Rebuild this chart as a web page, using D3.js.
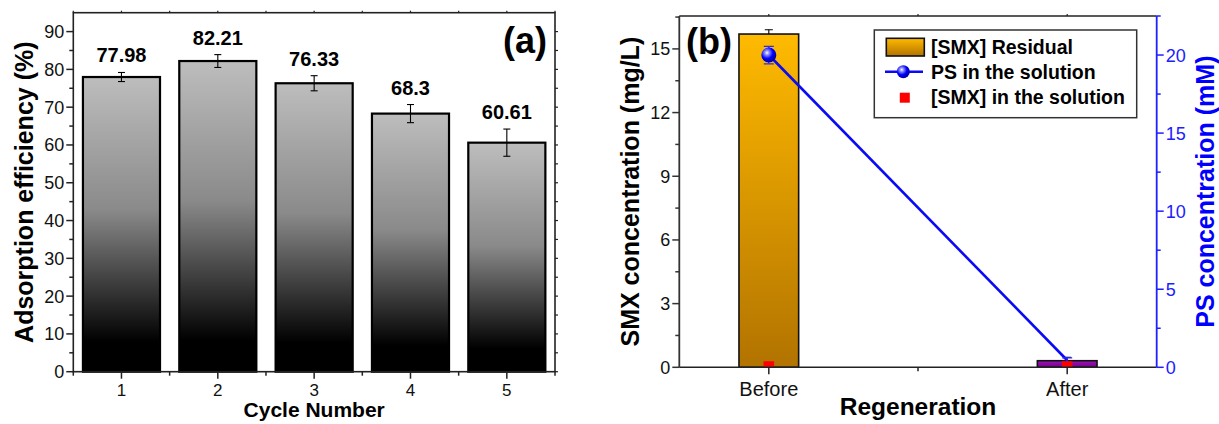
<!DOCTYPE html>
<html>
<head>
<meta charset="utf-8">
<script src="https://cdn.jsdelivr.net/npm/d3@7"></script>
<style>
  body { margin: 0; background: #fff; }
  svg { display: block; font-family: "Liberation Sans", Arial, sans-serif; }
</style>
</head>
<body>
<svg id="chart" width="1219" height="424"></svg>
<script>
// ---- panel (a) data
const cycles = ['1', '2', '3', '4', '5'];
const efficiency = [77.98, 82.21, 76.33, 68.3, 60.61];
const efficiencyErr = [1.2, 1.7, 2.0, 2.4, 3.6];
const efficiencyTicks = [0, 10, 20, 30, 40, 50, 60, 70, 80, 90];

// ---- panel (b) data
const stages = ['Before', 'After'];
const smxResidual = [15.7, 0.31];
const smxResidualErr = [0.2, 0.16];
const psSolution = [20.0, 0.45];
const psSolutionErr = [0.56, 0.15];
const smxSolution = [0.05, 0.05];
const smxTicks = [0, 3, 6, 9, 12, 15];
const psTicks = [0, 5, 10, 15, 20];

const svg = d3.select('#chart');
const defs = svg.append('defs');

function addGradient(id, stops) {
  const g = defs.append('linearGradient').attr('id', id)
    .attr('x1', 0).attr('y1', 0).attr('x2', 0).attr('y2', 1);
  stops.forEach(s => g.append('stop').attr('offset', s[0]).attr('stop-color', s[1]));
}
addGradient('gray-grad', [[0, '#bdbdbd'], [0.45, '#8a8a8a'], [0.9, '#000'], [1, '#000']]);
addGradient('orange-grad', [[0, '#ffba00'], [1, '#b27300']]);
addGradient('purple-grad', [[0, '#9a14b4'], [1, '#77008e']]);

const ball = defs.append('radialGradient').attr('id', 'ball-grad')
  .attr('cx', '38%').attr('cy', '35%').attr('r', '65%');
[[0, '#ffffff'], [0.22, '#9090ff'], [0.6, '#0000ff'], [1, '#00009a']]
  .forEach(s => ball.append('stop').attr('offset', s[0]).attr('stop-color', s[1]));

// small helper for manual tick marks
function ticks(g, list, fn, color, width) {
  g.selectAll(null).data(list).join('line')
    .each(function(d) {
      const c = fn(d);
      d3.select(this).attr('x1', c[0]).attr('y1', c[1]).attr('x2', c[2]).attr('y2', c[3]);
    })
    .attr('stroke', color).attr('stroke-width', width || 1.5);
}

// ============ panel (a)
const pa = {left: 73.3, right: 555, top: 12.7, bottom: 371.7};
const xa = d3.scaleBand().domain(cycles).range([pa.left, pa.right])
  .paddingInner(0.2).paddingOuter(0.1);
const ya = d3.scaleLinear().domain([0, 95]).range([pa.bottom, pa.top]);
const ga = svg.append('g');

ga.selectAll('rect.bar').data(cycles).join('rect')
  .attr('class', 'bar')
  .attr('x', d => xa(d))
  .attr('y', (d, i) => ya(efficiency[i]))
  .attr('width', xa.bandwidth())
  .attr('height', (d, i) => ya(0) - ya(efficiency[i]))
  .attr('fill', 'url(#gray-grad)')
  .attr('stroke', '#000').attr('stroke-width', 2.2);

const cxa = d => xa(d) + xa.bandwidth() / 2;
const errA = ga.selectAll('g.err').data(cycles).join('g').attr('class', 'err');
errA.append('line')
  .attr('x1', cxa).attr('x2', cxa)
  .attr('y1', (d, i) => ya(efficiency[i] + efficiencyErr[i]))
  .attr('y2', (d, i) => ya(efficiency[i] - efficiencyErr[i]));
[1, -1].forEach(sgn => {
  errA.append('line')
    .attr('x1', d => cxa(d) - 3.5).attr('x2', d => cxa(d) + 3.5)
    .attr('y1', (d, i) => ya(efficiency[i] + sgn * efficiencyErr[i]))
    .attr('y2', (d, i) => ya(efficiency[i] + sgn * efficiencyErr[i]));
});
errA.selectAll('line').attr('stroke', '#000').attr('stroke-width', 1.1);

ga.selectAll('text.val').data(cycles).join('text')
  .attr('class', 'val')
  .attr('x', cxa)
  .attr('y', (d, i) => ya(efficiency[i] + efficiencyErr[i]) - 10)
  .attr('text-anchor', 'middle')
  .attr('font-size', 20).attr('font-weight', 'bold')
  .text((d, i) => efficiency[i]);

// frame and axes
ga.append('rect')
  .attr('x', pa.left).attr('y', pa.top)
  .attr('width', pa.right - pa.left).attr('height', pa.bottom - pa.top)
  .attr('fill', 'none').attr('stroke', '#222').attr('stroke-width', 1.6);

const minorA = d3.range(5, 95, 10);
ticks(ga, efficiencyTicks, v => [pa.left - 7, ya(v), pa.left, ya(v)], '#222');
ticks(ga, minorA, v => [pa.left - 4, ya(v), pa.left, ya(v)], '#222');
ticks(ga, efficiencyTicks.concat(minorA), v => [pa.right, ya(v), pa.right + 3, ya(v)], '#222', 1.2);

const edgesA = cycles.map(d => xa(d) + xa.bandwidth() / 2 + xa.step() / 2).slice(0, -1)
  .concat([pa.left, pa.right]);
ticks(ga, cycles, d => [cxa(d), pa.bottom, cxa(d), pa.bottom + 7], '#222');
ticks(ga, edgesA, x => [x, pa.bottom, x, pa.bottom + 4], '#222');
ticks(ga, cycles, d => [cxa(d), pa.top - 2, cxa(d), pa.top], '#222', 1.2);
ticks(ga, edgesA, x => [x, pa.top - 2, x, pa.top], '#222', 1.2);

ga.selectAll('text.ylab').data(efficiencyTicks).join('text')
  .attr('class', 'ylab')
  .attr('x', pa.left - 9).attr('y', v => ya(v) + 6.5)
  .attr('text-anchor', 'end').attr('font-size', 18).attr('fill', '#111')
  .text(v => v);
ga.selectAll('text.xlab').data(cycles).join('text')
  .attr('class', 'xlab')
  .attr('x', cxa).attr('y', 396)
  .attr('text-anchor', 'middle').attr('font-size', 17).attr('fill', '#111')
  .text(d => d);

ga.append('text')
  .attr('transform', `translate(33,${(pa.top + pa.bottom) / 2}) rotate(-90)`)
  .attr('text-anchor', 'middle').attr('font-size', 25).attr('font-weight', 'bold')
  .text('Adsorption efficiency (%)');
ga.append('text')
  .attr('x', (pa.left + pa.right) / 2).attr('y', 417)
  .attr('text-anchor', 'middle').attr('font-size', 21).attr('font-weight', 'bold')
  .text('Cycle Number');
ga.append('text')
  .attr('x', 547).attr('y', 53)
  .attr('text-anchor', 'end').attr('font-size', 36).attr('font-weight', 'bold')
  .text('(a)');

// ============ panel (b)
const pb = {left: 679.3, right: 1156.7, top: 16, bottom: 367.3};
const xb = d3.scaleBand().domain(stages).range([pb.left, pb.right])
  .paddingInner(0.8).paddingOuter(0.2);
const yb = d3.scaleLinear().domain([0, 16.55]).range([pb.bottom, pb.top]);
const yr = d3.scaleLinear().domain([0, 22.5]).range([pb.bottom, pb.top]);
const cxb = d => xb(d) + xb.bandwidth() / 2;
const barFill = ['url(#orange-grad)', 'url(#purple-grad)'];

defs.append('clipPath').attr('id', 'clip-b').append('rect')
  .attr('x', pb.left).attr('y', pb.top)
  .attr('width', pb.right - pb.left).attr('height', pb.bottom - pb.top);

const gb = svg.append('g');
const plotB = gb.append('g').attr('clip-path', 'url(#clip-b)');

plotB.selectAll('rect.bar').data(stages).join('rect')
  .attr('class', 'bar')
  .attr('x', d => xb(d))
  .attr('y', (d, i) => yb(smxResidual[i]))
  .attr('width', xb.bandwidth())
  .attr('height', (d, i) => yb(0) - yb(smxResidual[i]))
  .attr('fill', (d, i) => barFill[i])
  .attr('stroke', '#111').attr('stroke-width', 1.6);

const errB = plotB.selectAll('g.err').data(stages).join('g').attr('class', 'err');
errB.append('line')
  .attr('x1', cxb).attr('x2', cxb)
  .attr('y1', (d, i) => yb(smxResidual[i] + smxResidualErr[i]))
  .attr('y2', (d, i) => yb(smxResidual[i]));
errB.append('line')
  .attr('x1', d => cxb(d) - 4).attr('x2', d => cxb(d) + 4)
  .attr('y1', (d, i) => yb(smxResidual[i] + smxResidualErr[i]))
  .attr('y2', (d, i) => yb(smxResidual[i] + smxResidualErr[i]));
errB.selectAll('line').attr('stroke', '#000').attr('stroke-width', 1.1);

// PS line
const psLine = d3.line().x(d => cxb(d)).y(d => yr(psSolution[stages.indexOf(d)]));
plotB.append('path').datum(stages)
  .attr('d', psLine)
  .attr('fill', 'none').attr('stroke', '#0a0af5').attr('stroke-width', 2.6);

// PS error bars
const errPS = plotB.selectAll('g.perr').data(stages).join('g').attr('class', 'perr');
errPS.append('line')
  .attr('x1', cxb).attr('x2', cxb)
  .attr('y1', (d, i) => yr(psSolution[i] + psSolutionErr[i]))
  .attr('y2', (d, i) => yr(psSolution[i] - psSolutionErr[i]));
[1, -1].forEach(sgn => {
  errPS.append('line')
    .attr('x1', d => cxb(d) - 5).attr('x2', d => cxb(d) + 5)
    .attr('y1', (d, i) => yr(psSolution[i] + sgn * psSolutionErr[i]))
    .attr('y2', (d, i) => yr(psSolution[i] + sgn * psSolutionErr[i]));
});
errPS.selectAll('line').attr('stroke', '#2a2aff').attr('stroke-width', 1.2);

plotB.append('circle')
  .attr('cx', cxb(stages[0])).attr('cy', yr(psSolution[0])).attr('r', 7.5)
  .attr('fill', 'url(#ball-grad)');

// [SMX] in the solution
plotB.selectAll('rect.sq').data(stages).join('rect')
  .attr('class', 'sq')
  .attr('x', d => cxb(d) - 5.3)
  .attr('y', (d, i) => yb(smxSolution[i]) - 5)
  .attr('width', 10.6).attr('height', 10)
  .attr('fill', '#ff0000');

// axes
gb.append('line').attr('x1', pb.left).attr('x2', pb.right).attr('y1', pb.top).attr('y2', pb.top)
  .attr('stroke', '#222').attr('stroke-width', 1.6);
gb.append('line').attr('x1', pb.left).attr('x2', pb.right).attr('y1', pb.bottom).attr('y2', pb.bottom)
  .attr('stroke', '#222').attr('stroke-width', 1.6);
gb.append('line').attr('x1', pb.left).attr('x2', pb.left).attr('y1', pb.top).attr('y2', pb.bottom)
  .attr('stroke', '#333').attr('stroke-width', 1.8);
gb.append('line').attr('x1', pb.right).attr('x2', pb.right).attr('y1', pb.top).attr('y2', pb.bottom)
  .attr('stroke', '#2020ff').attr('stroke-width', 1.8);

const minorB = smxTicks.map(v => v + 1.5);
ticks(gb, smxTicks, v => [pb.left - 7, yb(v), pb.left, yb(v)], '#333');
ticks(gb, minorB, v => [pb.left - 4, yb(v), pb.left, yb(v)], '#333');
const minorR = psTicks.map(v => v + 2.5);
ticks(gb, psTicks, v => [pb.right, yr(v), pb.right + 7, yr(v)], '#2020ff');
ticks(gb, minorR, v => [pb.right, yr(v), pb.right + 4, yr(v)], '#2020ff');

const midB = [(cxb(stages[0]) + cxb(stages[1])) / 2];
ticks(gb, stages, d => [cxb(d), pb.bottom, cxb(d), pb.bottom + 7], '#222');
ticks(gb, midB, x => [x, pb.bottom, x, pb.bottom + 4], '#222');
ticks(gb, stages, d => [cxb(d), pb.top - 2, cxb(d), pb.top], '#222', 1.2);
ticks(gb, midB, x => [x, pb.top - 2, x, pb.top], '#222', 1.2);

gb.selectAll('text.ylab').data(smxTicks).join('text')
  .attr('class', 'ylab')
  .attr('x', pb.left - 9).attr('y', v => yb(v) + 6.5)
  .attr('text-anchor', 'end').attr('font-size', 18).attr('fill', '#111')
  .text(v => v);
gb.selectAll('text.rlab').data(psTicks).join('text')
  .attr('class', 'rlab')
  .attr('x', pb.right + 9).attr('y', v => yr(v) + 6.5)
  .attr('text-anchor', 'start').attr('font-size', 18).attr('fill', '#2020ff')
  .text(v => v);
gb.selectAll('text.xlab').data(stages).join('text')
  .attr('class', 'xlab')
  .attr('x', cxb).attr('y', 396)
  .attr('text-anchor', 'middle').attr('font-size', 20).attr('fill', '#111')
  .text(d => d);

gb.append('text')
  .attr('transform', `translate(639,${(pb.top + pb.bottom) / 2}) rotate(-90)`)
  .attr('text-anchor', 'middle').attr('font-size', 25).attr('font-weight', 'bold')
  .text('SMX concentration (mg/L)');
gb.append('text')
  .attr('transform', `translate(1214,${(pb.top + pb.bottom) / 2}) rotate(-90)`)
  .attr('text-anchor', 'middle').attr('font-size', 25).attr('font-weight', 'bold')
  .attr('fill', '#0000ff')
  .text('PS concentration (mM)');
gb.append('text')
  .attr('x', (pb.left + pb.right) / 2).attr('y', 415)
  .attr('text-anchor', 'middle').attr('font-size', 24.5).attr('font-weight', 'bold')
  .text('Regeneration');
gb.append('text')
  .attr('x', 686).attr('y', 54)
  .attr('font-size', 36).attr('font-weight', 'bold')
  .text('(b)');

// legend
const lg = gb.append('g').attr('transform', 'translate(874.3,30)');
lg.append('rect').attr('width', 262.4).attr('height', 87.7)
  .attr('fill', '#fff').attr('stroke', '#333').attr('stroke-width', 1.5);
lg.append('rect').attr('x', 12).attr('y', 8.3).attr('width', 38).attr('height', 17.7)
  .attr('fill', 'url(#orange-grad)').attr('stroke', '#111').attr('stroke-width', 1.6);
lg.append('line').attr('x1', 10.7).attr('x2', 48.7).attr('y1', 41.7).attr('y2', 41.7)
  .attr('stroke', '#0a0af5').attr('stroke-width', 2.6);
lg.append('circle').attr('cx', 29).attr('cy', 41.7).attr('r', 6.5).attr('fill', 'url(#ball-grad)');
lg.append('rect').attr('x', 25.5).attr('y', 62.7).attr('width', 10).attr('height', 10).attr('fill', '#ff0000');
const legendLabels = ['[SMX] Residual', 'PS in the solution', '[SMX] in the solution'];
lg.selectAll('text.lt').data(legendLabels).join('text')
  .attr('class', 'lt')
  .attr('x', 56.7).attr('y', (d, i) => 23.5 + i * 25)
  .attr('font-size', 19.5).attr('font-weight', 'bold')
  .text(d => d);
</script>
</body>
</html>
